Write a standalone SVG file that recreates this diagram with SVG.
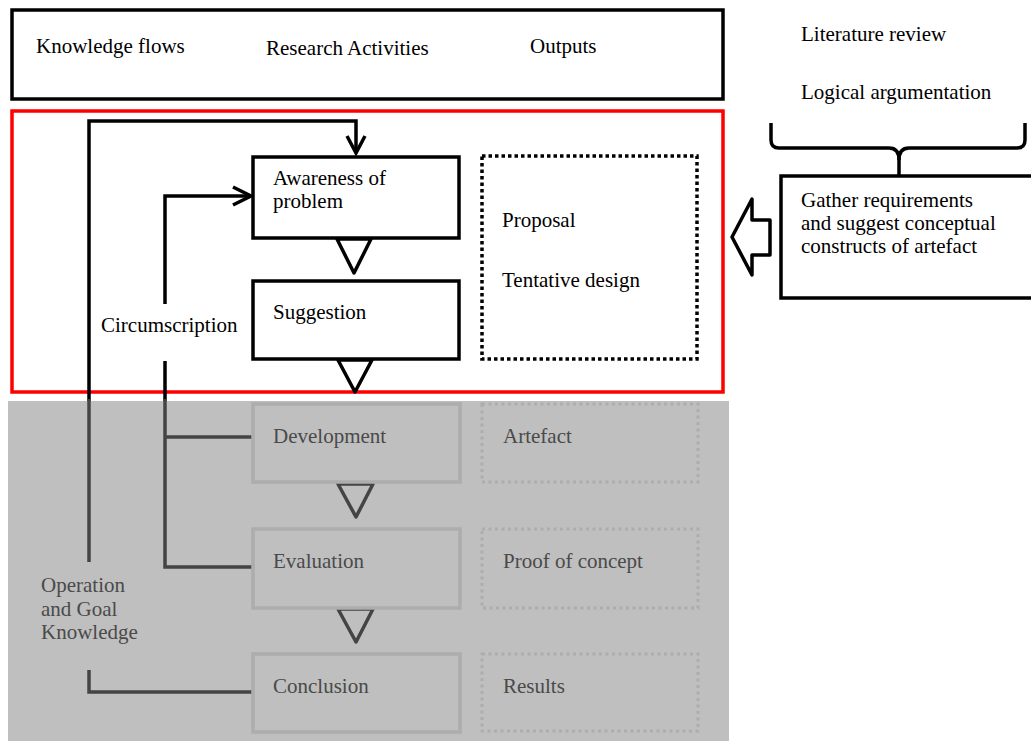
<svg xmlns="http://www.w3.org/2000/svg" width="1031" height="741" viewBox="0 0 1031 741">
<style>
  text { font-family: "Liberation Serif", "Times New Roman", serif; font-size: 21px; fill: #000; }
  .g text, text.g { fill: #4a4a4a; }
  .box { fill: #fff; stroke: #000; stroke-width: 3.5; }
  .gbox { fill: #bfbfbf; stroke: #adadad; stroke-width: 3.5; }
  .dot { fill: none; stroke: #000; stroke-width: 3.5; stroke-dasharray: 3.5 3; }
  .gdot { fill: none; stroke: #adadad; stroke-width: 3; stroke-dasharray: 3 3.5; }
  .ln { fill: none; stroke: #000; stroke-width: 3.5; }
  .gln { fill: none; stroke: #444; stroke-width: 3.5; }
  .tri { fill: #fff; stroke: #000; stroke-width: 3.5; stroke-linejoin: round; }
  .gtri { fill: #bfbfbf; stroke: #444; stroke-width: 3.5; stroke-linejoin: round; }
</style>
<rect width="1031" height="741" fill="#fff"/>

<!-- header -->
<g id="header">
  <rect x="12" y="10" width="711" height="89" class="box"/>
  <text x="36" y="53">Knowledge flows</text>
  <text x="266" y="55">Research Activities</text>
  <text x="530" y="53">Outputs</text>
</g>

<!-- gray (future) region -->
<rect id="future-region" x="8" y="401" width="721" height="340" fill="#bfbfbf"/>

<!-- red phase frame -->
<g id="phase-frame">
  <rect x="12" y="111" width="711" height="281" fill="none" stroke="#ff0000" stroke-width="3.5"/>
</g>

<g id="connectors">
  <!-- outer loop: operation and goal knowledge -->
  <path class="ln" d="M89,401 V121 H356 V152"/>
  <path class="ln" d="M347,136 L356,153 L365,136"/>
  <path class="gln" d="M89,399 V562"/>
  <path class="gln" d="M89,670 V692 H252"/>
  <!-- inner loop: circumscription -->
  <path class="ln" d="M165,401 V196 H250"/>
  <path class="ln" d="M233,187 L251,196 L233,205"/>
  <path class="gln" d="M165,399 V567 H254"/>
  <path class="gln" d="M165,437 H252"/>
  <!-- process triangles -->
  <path class="tri" d="M337,239 L371,239 L354,273 Z"/>
  <path class="tri" d="M338,360 L372,360 L355,392 Z"/>
  <path class="gtri" d="M338,484 L373,484 L356,517 Z"/>
  <path class="gtri" d="M338,609 L373,609 L356,642 Z"/>
  <!-- brace -->
  <path class="ln" d="M771,123 V140 Q771,148 779,148 H889 Q899,148 899,160 V176"/>
  <path class="ln" d="M1025,123 V140 Q1025,148 1017,148 H909 Q899,148 899,160"/>
  <!-- block arrow -->
  <path class="tri" d="M732,237 L752,199 L752,220 L770,220 L770,255 L752,255 L752,275 Z" stroke-linejoin="miter"/>
</g>

<g id="awareness">
  <rect x="253" y="157" width="206" height="81" class="box"/>
  <text x="273" y="185">Awareness of</text>
  <text x="273" y="208">problem</text>
</g>
<g id="suggestion">
  <rect x="253" y="281" width="206" height="78" class="box"/>
  <text x="273" y="319">Suggestion</text>
</g>
<g id="circumscription-label">
  <rect x="98" y="304" width="142" height="57" fill="#fff"/>
  <text x="101" y="332">Circumscription</text>
</g>
<g id="proposal-output">
  <rect x="482" y="156" width="215" height="203" class="dot"/>
  <text x="502" y="227">Proposal</text>
  <text x="502" y="287">Tentative design</text>
</g>

<g id="development" class="g">
  <rect x="253" y="404" width="207" height="78" class="gbox"/>
  <text x="273" y="443">Development</text>
</g>
<g id="evaluation" class="g">
  <rect x="253" y="529" width="207" height="79" class="gbox"/>
  <text x="273" y="568">Evaluation</text>
</g>
<g id="conclusion" class="g">
  <rect x="253" y="654" width="207" height="78" class="gbox"/>
  <text x="273" y="693">Conclusion</text>
</g>
<g id="artefact-output" class="g">
  <rect x="482" y="404" width="216" height="78" class="gdot"/>
  <text x="503" y="443">Artefact</text>
</g>
<g id="proof-output" class="g">
  <rect x="482" y="529" width="216" height="79" class="gdot"/>
  <text x="503" y="568">Proof of concept</text>
</g>
<g id="results-output" class="g">
  <rect x="482" y="654" width="216" height="77" class="gdot"/>
  <text x="503" y="693">Results</text>
</g>
<g id="operation-label" class="g">
  <text x="41" y="592">Operation</text>
  <text x="41" y="616">and Goal</text>
  <text x="41" y="639">Knowledge</text>
</g>

<g id="methods">
  <text x="801" y="41">Literature review</text>
  <text x="801" y="99">Logical argumentation</text>
</g>
<g id="gather">
  <rect x="781" y="176" width="270" height="122" class="box"/>
  <text x="801" y="207">Gather requirements</text>
  <text x="801" y="230">and suggest conceptual</text>
  <text x="801" y="253">constructs of artefact</text>
</g>
</svg>
